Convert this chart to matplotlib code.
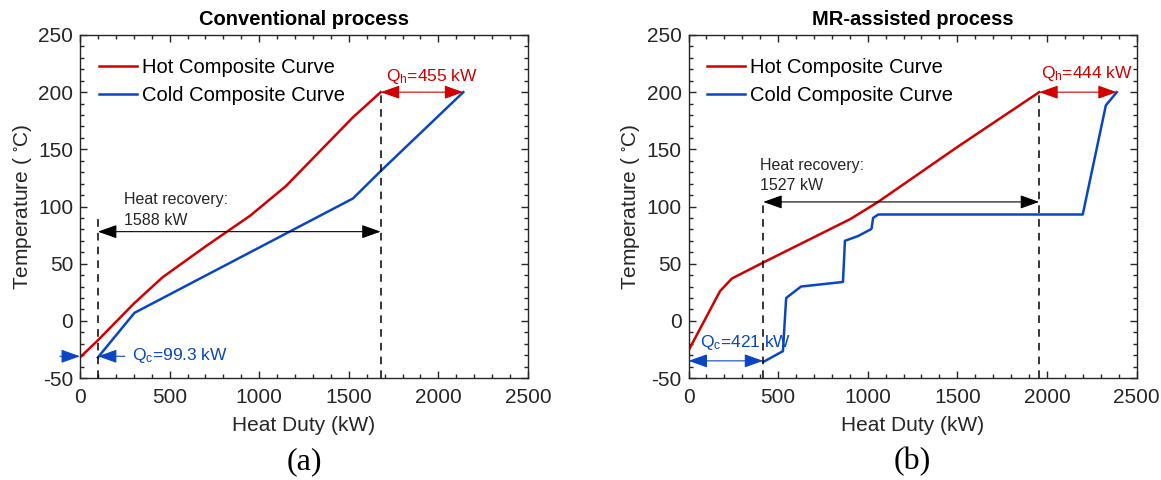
import matplotlib.pyplot as plt
from matplotlib.ticker import MultipleLocator

plt.rcParams['font.family'] = ['Liberation Sans', 'DejaVu Sans']
plt.rcParams['mathtext.fontset'] = 'custom'
plt.rcParams['mathtext.rm'] = 'Liberation Sans'
plt.rcParams['mathtext.it'] = 'Liberation Sans:italic'
plt.rcParams['mathtext.default'] = 'regular'
plt.rcParams['axes.unicode_minus'] = False

RED = '#d00000'
BLUE = '#0a46c2'
DARK = '#262626'

# (a) conventional process
hot_a_q = [0, 100, 300, 460, 700, 950, 1150, 1523, 1678]
hot_a_t = [-32, -17, 15, 38, 65, 92, 118, 178, 200]
cold_a_q = [100, 304, 1523, 1678, 2139]
cold_a_t = [-32, 7, 107, 131, 200]

# (b) MR-assisted process
hot_b_q = [0, 176, 242, 417, 903, 1058, 1500, 1957]
hot_b_t = [-26, 26, 37, 51, 89, 104, 152, 200]
cold_b_q = [417, 527, 545, 628, 862, 873, 944, 1017, 1022, 1030, 1059, 2200, 2329, 2390]
cold_b_t = [-36, -26.5, 20, 30, 34, 70, 74, 80, 81, 90, 93, 93, 188.5, 200]

titles = ['Conventional process', 'MR-assisted process']
panel_tags = ['(a)', '(b)']


def style_axes(ax):
    ax.set_xlim(0, 2500)
    ax.set_ylim(-50, 250)
    ax.xaxis.set_major_locator(MultipleLocator(500))
    ax.xaxis.set_minor_locator(MultipleLocator(100))
    ax.yaxis.set_major_locator(MultipleLocator(50))
    ax.yaxis.set_minor_locator(MultipleLocator(10))
    ax.tick_params(which='both', direction='in', top=True, right=True,
                   colors=DARK, labelsize=15, width=1)
    ax.tick_params(which='major', length=5)
    ax.tick_params(which='minor', length=3)
    ax.tick_params(axis='x', which='major', pad=7)
    ax.tick_params(axis='y', which='major', pad=5)
    for s in ax.spines.values():
        s.set_color(DARK)
        s.set_linewidth(1)
    ax.set_xlabel('Heat Duty (kW)', fontsize=15, color=DARK, labelpad=7)
    ax.set_ylabel(r'Temperature ( $^{\circ}$C)', fontsize=15, color=DARK, labelpad=3)


def darrow(ax, x0, x1, y, color, lw=0.8):
    ax.annotate('', xy=(x1, y), xytext=(x0, y),
                arrowprops=dict(arrowstyle='<|-|>,head_length=0.9,head_width=0.32',
                                color=color, lw=lw, shrinkA=0, shrinkB=0,
                                mutation_scale=13))


fig = plt.figure(figsize=(11.61, 4.80), dpi=100)
ax_a = fig.add_axes([80 / 1161, 102 / 480, 448 / 1161, 343 / 480])
ax_b = fig.add_axes([688.5 / 1161, 102 / 480, 448 / 1161, 343 / 480])

for ax, hq, ht, cq, ct, title in [(ax_a, hot_a_q, hot_a_t, cold_a_q, cold_a_t, titles[0]),
                                  (ax_b, hot_b_q, hot_b_t, cold_b_q, cold_b_t, titles[1])]:
    ax.plot(hq, ht, color=RED, lw=1.8, label='Hot Composite Curve')
    ax.plot(cq, ct, color=BLUE, lw=1.8, label='Cold Composite Curve')
    style_axes(ax)
    ax.set_title(title, fontsize=14.5, fontweight='bold', color='black', pad=7)
    ax.legend(loc='upper left', frameon=False, fontsize=14.5, handlelength=1.9,
              handletextpad=0.25, labelspacing=0.45, borderaxespad=0.3,
              bbox_to_anchor=(0.01, 0.975))

# annotations (a)
ax_a.plot([hot_a_q[1], hot_a_q[1]], [-50, 90], color='black', lw=1.1, ls=(0, (5, 4)))
ax_a.plot([hot_a_q[-1], hot_a_q[-1]], [-50, 200], color='black', lw=1.1, ls=(0, (5, 4)))
darrow(ax_a, 100, 1678, 78, 'black')
ax_a.text(248, 106, 'Heat recovery:', fontsize=11.5, color=DARK, va='center')
ax_a.text(248, 88, '1588 kW', fontsize=11.5, color=DARK, va='center')
darrow(ax_a, 1678, 2139, 200, RED)
ax_a.text(1705, 214, r'Q$_h$=455 kW', fontsize=12.5, color=RED, va='center')
ax_a.annotate('', xy=(0, -31), xytext=(-112, -31),
              arrowprops=dict(arrowstyle='-|>,head_length=0.9,head_width=0.32',
                              color=BLUE, lw=0.8, shrinkA=0, shrinkB=0,
                              mutation_scale=13), annotation_clip=False)
ax_a.annotate('', xy=(100, -31), xytext=(250, -31),
              arrowprops=dict(arrowstyle='-|>,head_length=0.9,head_width=0.32',
                              color=BLUE, lw=0.8, shrinkA=0, shrinkB=0,
                              mutation_scale=13))
ax_a.text(290, -30, r'Q$_c$=99.3 kW', fontsize=12.5, color=BLUE, va='center')

# annotations (b)
ax_b.plot([417, 417], [-50, 106], color='black', lw=1.1, ls=(0, (5, 4)))
ax_b.plot([1957, 1957], [-50, 200], color='black', lw=1.1, ls=(0, (5, 4)))
darrow(ax_b, 417, 1957, 104, 'black')
ax_b.text(400, 136, 'Heat recovery:', fontsize=11.5, color=DARK, va='center')
ax_b.text(400, 118, '1527 kW', fontsize=11.5, color=DARK, va='center')
darrow(ax_b, 1957, 2390, 200, RED)
ax_b.text(1965, 216, r'Q$_h$=444 kW', fontsize=12.5, color=RED, va='center')
darrow(ax_b, 0, 417, -35, BLUE)
ax_b.text(66, -19, r'Q$_c$=421 kW', fontsize=12.5, color=BLUE, va='center')

for ax, tag in [(ax_a, panel_tags[0]), (ax_b, panel_tags[1])]:
    pos = ax.get_position()
    fig.text((pos.x0 + pos.x1) / 2, 1 - 462 / 480, tag, ha='center', va='center',
             fontsize=23, family=['Liberation Serif', 'DejaVu Serif'])

fig.savefig('out.png', dpi=100)
